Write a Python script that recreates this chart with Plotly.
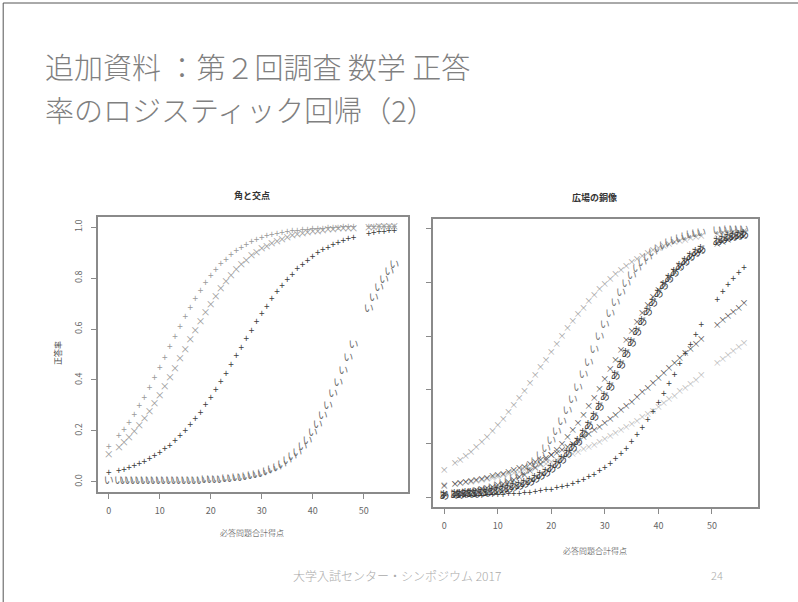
import plotly.graph_objects as go

FONT = "Noto Sans CJK JP"

# 必答問題合計得点 (x)
scores = [0, 2, 3, 4, 5, 6, 7, 8, 9, 10, 11, 12, 13, 14, 15, 16, 17, 18, 19, 20,
          21, 22, 23, 24, 25, 26, 27, 28, 29, 30, 31, 32, 33, 34, 35, 36, 37, 38, 39, 40,
          41, 42, 43, 44, 45, 46, 47, 48, 51, 52, 53, 54, 55, 56]

# 角と交点
kado_1 = [0.135, 0.178, 0.203, 0.231, 0.261, 0.294, 0.329, 0.366, 0.405, 0.445,
          0.486, 0.527, 0.568, 0.607, 0.646, 0.682, 0.717, 0.749, 0.778, 0.805,
          0.830, 0.852, 0.871, 0.889, 0.904, 0.917, 0.929, 0.939, 0.948, 0.955,
          0.962, 0.967, 0.972, 0.976, 0.980, 0.983, 0.985, 0.988, 0.989, 0.991,
          0.992, 0.993, 0.994, 0.995, 0.996, 0.997, 0.997, 0.998, 0.998, 0.999,
          0.999, 0.999, 0.999, 0.999]
kado_2 = [0.102, 0.132, 0.151, 0.171, 0.193, 0.218, 0.244, 0.273, 0.304, 0.336,
          0.371, 0.406, 0.443, 0.480, 0.517, 0.555, 0.591, 0.627, 0.661, 0.694,
          0.725, 0.754, 0.781, 0.805, 0.828, 0.848, 0.866, 0.883, 0.898, 0.911,
          0.922, 0.932, 0.941, 0.949, 0.956, 0.962, 0.967, 0.971, 0.975, 0.979,
          0.981, 0.984, 0.986, 0.988, 0.990, 0.991, 0.992, 0.993, 0.996, 0.996,
          0.997, 0.997, 0.998, 0.998]
kado_3 = [0.031, 0.040, 0.046, 0.052, 0.059, 0.067, 0.076, 0.086, 0.098, 0.111,
          0.125, 0.140, 0.158, 0.177, 0.197, 0.220, 0.244, 0.270, 0.298, 0.327,
          0.358, 0.390, 0.423, 0.457, 0.491, 0.525, 0.559, 0.592, 0.625, 0.656,
          0.686, 0.715, 0.742, 0.767, 0.790, 0.812, 0.832, 0.850, 0.867, 0.882,
          0.895, 0.907, 0.918, 0.928, 0.937, 0.944, 0.951, 0.957, 0.971, 0.975,
          0.978, 0.981, 0.983, 0.985]
kado_i = [0.0001, 0.0001, 0.0001, 0.0002, 0.0002, 0.0003, 0.0003, 0.0004, 0.0005, 0.0006,
          0.0007, 0.0009, 0.001, 0.0013, 0.0016, 0.0019, 0.0023, 0.0029, 0.0035, 0.0042,
          0.0052, 0.0063, 0.0077, 0.0094, 0.0114, 0.0139, 0.017, 0.021, 0.025, 0.030,
          0.037, 0.045, 0.054, 0.065, 0.079, 0.094, 0.113, 0.135, 0.160, 0.188,
          0.221, 0.257, 0.297, 0.341, 0.387, 0.435, 0.485, 0.535, 0.677, 0.719,
          0.758, 0.792, 0.823, 0.851]

# 広場の銅像
hiro_1 = [0.100, 0.123, 0.136, 0.151, 0.167, 0.184, 0.202, 0.222, 0.243, 0.265,
          0.289, 0.313, 0.339, 0.366, 0.394, 0.423, 0.452, 0.481, 0.510, 0.540,
          0.569, 0.598, 0.626, 0.653, 0.679, 0.704, 0.728, 0.751, 0.772, 0.792,
          0.811, 0.829, 0.845, 0.860, 0.873, 0.886, 0.897, 0.908, 0.917, 0.926,
          0.933, 0.940, 0.947, 0.952, 0.957, 0.962, 0.966, 0.970, 0.978, 0.981,
          0.983, 0.985, 0.986, 0.988]
hiro_i = [0.006, 0.009, 0.010, 0.012, 0.015, 0.018, 0.022, 0.026, 0.032, 0.038,
          0.046, 0.055, 0.065, 0.078, 0.093, 0.110, 0.130, 0.153, 0.179, 0.209,
          0.242, 0.279, 0.319, 0.361, 0.406, 0.453, 0.500, 0.547, 0.594, 0.639,
          0.681, 0.721, 0.758, 0.791, 0.821, 0.847, 0.870, 0.890, 0.907, 0.922,
          0.935, 0.945, 0.954, 0.962, 0.968, 0.974, 0.978, 0.982, 0.990, 0.991,
          0.993, 0.994, 0.995, 0.996]
hiro_a = [0.004, 0.006, 0.007, 0.008, 0.009, 0.011, 0.013, 0.015, 0.018, 0.021,
          0.025, 0.029, 0.034, 0.040, 0.047, 0.055, 0.065, 0.075, 0.088, 0.102,
          0.118, 0.136, 0.157, 0.180, 0.205, 0.234, 0.264, 0.298, 0.333, 0.371,
          0.410, 0.451, 0.492, 0.533, 0.574, 0.613, 0.652, 0.688, 0.723, 0.754,
          0.784, 0.810, 0.834, 0.856, 0.875, 0.892, 0.907, 0.920, 0.950, 0.957,
          0.963, 0.969, 0.973, 0.977]
hiro_2 = [0.010, 0.013, 0.015, 0.018, 0.020, 0.023, 0.027, 0.031, 0.036, 0.041,
          0.047, 0.054, 0.062, 0.071, 0.081, 0.093, 0.106, 0.120, 0.136, 0.154,
          0.174, 0.196, 0.220, 0.246, 0.274, 0.304, 0.335, 0.368, 0.402, 0.438,
          0.474, 0.510, 0.546, 0.582, 0.617, 0.650, 0.682, 0.713, 0.742, 0.769,
          0.793, 0.816, 0.837, 0.856, 0.873, 0.888, 0.902, 0.914, 0.942, 0.950,
          0.956, 0.962, 0.967, 0.971]
hiro_3 = [0.0014, 0.0019, 0.0022, 0.0025, 0.0029, 0.0034, 0.0039, 0.0045, 0.0053, 0.0061,
          0.0070, 0.0082, 0.0095, 0.011, 0.013, 0.015, 0.017, 0.020, 0.023, 0.026,
          0.031, 0.035, 0.041, 0.047, 0.054, 0.062, 0.072, 0.082, 0.094, 0.108,
          0.123, 0.140, 0.159, 0.179, 0.202, 0.228, 0.255, 0.284, 0.315, 0.348,
          0.383, 0.419, 0.455, 0.493, 0.530, 0.567, 0.603, 0.638, 0.734, 0.762,
          0.788, 0.812, 0.833, 0.853]
hiro_4 = [0.040, 0.046, 0.049, 0.053, 0.057, 0.061, 0.065, 0.070, 0.075, 0.080,
          0.085, 0.091, 0.098, 0.104, 0.111, 0.119, 0.127, 0.135, 0.144, 0.153,
          0.163, 0.173, 0.184, 0.196, 0.208, 0.220, 0.233, 0.246, 0.260, 0.274,
          0.289, 0.305, 0.321, 0.337, 0.353, 0.371, 0.388, 0.405, 0.423, 0.441,
          0.460, 0.478, 0.496, 0.515, 0.533, 0.551, 0.569, 0.587, 0.640, 0.656,
          0.673, 0.689, 0.704, 0.720]
hiro_5 = [0.041, 0.046, 0.049, 0.052, 0.055, 0.058, 0.062, 0.066, 0.069, 0.073,
          0.078, 0.082, 0.087, 0.092, 0.097, 0.103, 0.109, 0.115, 0.121, 0.128,
          0.135, 0.142, 0.150, 0.158, 0.166, 0.175, 0.184, 0.193, 0.203, 0.213,
          0.224, 0.235, 0.246, 0.258, 0.269, 0.282, 0.294, 0.307, 0.320, 0.334,
          0.348, 0.362, 0.376, 0.391, 0.405, 0.420, 0.435, 0.451, 0.497, 0.512,
          0.527, 0.543, 0.558, 0.573]

y_ticks = [0.0, 0.2, 0.4, 0.6, 0.8, 1.0]
y_ticktext = ["0.0", "0.2", "0.4", "0.6", "0.8", "1.0"]
x_ticks = [0, 10, 20, 30, 40, 50]

# (values, mark, colour, size)
left_series = [
    (kado_1, "+", "#9a9a9a", 10),
    (kado_2, "×", "#9a9a9a", 10),
    (kado_3, "+", "#3c3c3c", 10),
    (kado_i, "い", "#6e6e6e", 10),
]
right_series = [
    (hiro_5, "×", "#b8b8b8", 9),
    (hiro_1, "×", "#a0a0a0", 9),
    (hiro_4, "×", "#4a4a4a", 9),
    (hiro_3, "+", "#3a3a3a", 10),
    (hiro_i, "い", "#7a7a7a", 10),
    (hiro_2, "×", "#505050", 9),
    (hiro_a, "あ", "#333333", 10),
]

fig = go.Figure()
for vals, ch, col, sz in left_series:
    fig.add_trace(go.Scatter(x=scores, y=vals, mode="text", text=[ch] * len(scores),
                             textfont=dict(family=FONT, size=sz, color=col),
                             xaxis="x", yaxis="y", showlegend=False))
for vals, ch, col, sz in right_series:
    fig.add_trace(go.Scatter(x=scores, y=vals, mode="text", text=[ch] * len(scores),
                             textfont=dict(family=FONT, size=sz, color=col),
                             xaxis="x2", yaxis="y2", showlegend=False))

axis_common = dict(showgrid=False, zeroline=False, showline=True, mirror=True,
                   linecolor="#8a8a8a", linewidth=2, ticks="outside", ticklen=5,
                   tickcolor="#8a8a8a", tickfont=dict(family=FONT, size=9, color="#666"))

fig.update_layout(
    width=798, height=602,
    margin=dict(l=0, r=0, t=0, b=0),
    paper_bgcolor="white", plot_bgcolor="white",
    xaxis=dict(domain=[0.1228, 0.5113], range=[-2.1, 58.7], tickvals=x_ticks,
               anchor="y", ticklabelstandoff=4, **axis_common),
    yaxis=dict(domain=[0.1827, 0.6395], range=[-0.04, 1.04], tickvals=y_ticks,
               ticktext=y_ticktext, tickangle=-90, anchor="x", ticklabelstandoff=5,
               **axis_common),
    xaxis2=dict(domain=[0.5426, 0.9499], range=[-2.1, 58.6], tickvals=x_ticks,
                anchor="y2", ticklabelstandoff=4, **axis_common),
    yaxis2=dict(domain=[0.1578, 0.6362], range=[-0.037, 1.037], tickvals=y_ticks,
                showticklabels=False, anchor="x2", **axis_common),
)

ann = [
    dict(x=43, y=66, text="追加資料 ：第２回調査 数学 正答", size=29, color="#808080", anchor="left"),
    dict(x=43, y=109, text="率のロジスティック回帰（2）", size=29, color="#808080", anchor="left"),
    dict(x=252, y=195, text="<b>角と交点</b>", size=9, color="#333", anchor="center"),
    dict(x=252, y=532, text="必答問題合計得点", size=8, color="#444", anchor="center"),
    dict(x=594, y=197, text="<b>広場の銅像</b>", size=9, color="#333", anchor="center"),
    dict(x=595, y=550, text="必答問題合計得点", size=8, color="#444", anchor="center"),
    dict(x=397, y=575, text="大学入試センター・シンポジウム 2017", size=12, color="#aaaaaa", anchor="center"),
    dict(x=717, y=575, text="24", size=11, color="#aaaaaa", anchor="center"),
]
for a in ann:
    fig.add_annotation(x=a["x"] / 798, y=1 - a["y"] / 602, xref="paper", yref="paper",
                       text=a["text"], showarrow=False, xanchor=a["anchor"], yanchor="middle",
                       font=dict(family=FONT, size=a["size"], color=a["color"], weight=300))

fig.add_annotation(x=57 / 798, y=1 - 353 / 602, xref="paper", yref="paper", text="正答率",
                   showarrow=False, textangle=-90, xanchor="center", yanchor="middle",
                   font=dict(family=FONT, size=8, color="#444"))

# slide frame (top and left edges)
fig.add_shape(type="line", xref="paper", yref="paper", x0=0.004, x1=1, y0=0.995, y1=0.995,
              line=dict(color="#555", width=1))
fig.add_shape(type="line", xref="paper", yref="paper", x0=0.004, x1=0.004, y0=0, y1=0.995,
              line=dict(color="#555", width=1))

fig.write_html("out.html", config={"displayModeBar": False},
               post_script="document.body.style.margin='0';")
